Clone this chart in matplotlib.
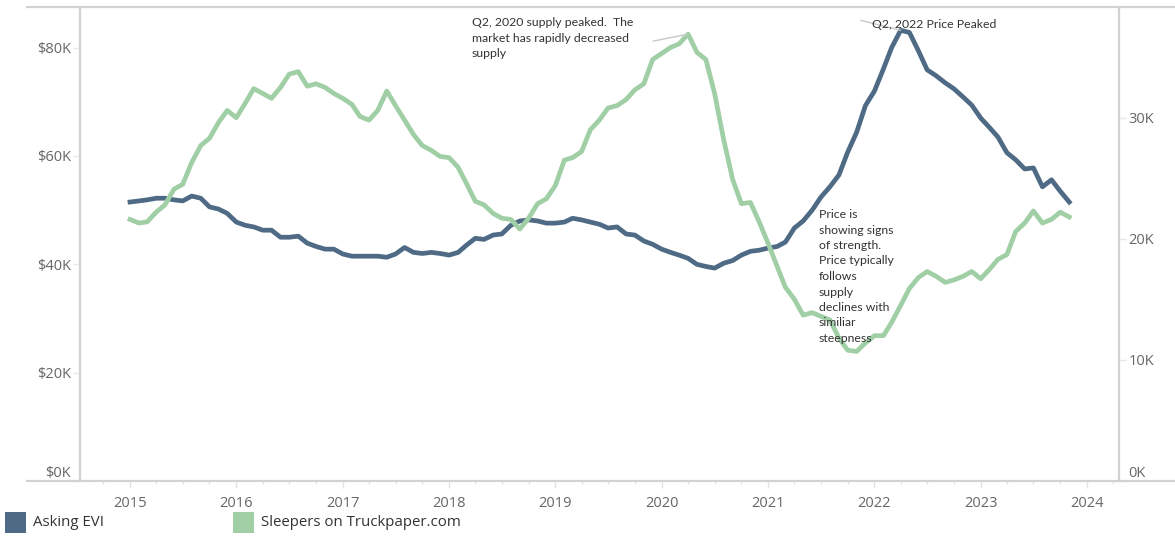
import matplotlib
matplotlib.use("Agg")
import matplotlib.pyplot as plt
import matplotlib.dates as mdates
import pandas as pd
from matplotlib.lines import Line2D
from matplotlib.patches import Rectangle
from matplotlib.ticker import FuncFormatter

# monthly, Jan 2015 .. Nov 2023
months = pd.date_range("2015-01-01", "2023-11-01", freq="MS")

# Asking EVI ($K, left axis)
asking_evi = [
    51.5, 51.7, 51.9, 52.2, 52.2, 51.9, 51.7, 52.6, 52.2, 50.6, 50.2, 49.4,
    47.8, 47.2, 46.9, 46.3, 46.3, 45.0, 45.0, 45.2, 43.9, 43.3, 42.8, 42.8,
    41.9, 41.5, 41.5, 41.5, 41.5, 41.3, 41.9, 43.1, 42.2, 42.0, 42.2, 42.0,
    41.7, 42.2, 43.5, 44.8, 44.6, 45.4, 45.6, 47.2, 48.0, 48.2, 48.0, 47.6,
    47.6, 47.8, 48.5, 48.2, 47.8, 47.4, 46.7, 46.9, 45.6, 45.4, 44.3, 43.7,
    42.8, 42.2, 41.7, 41.1, 40.0, 39.6, 39.3, 40.2, 40.7, 41.7, 42.4, 42.6,
    43.0, 43.3, 44.1, 46.7, 48.0, 50.0, 52.4, 54.3, 56.5, 60.7, 64.4, 69.3,
    72.0, 76.1, 80.0, 83.2, 82.8, 79.4, 75.9, 74.8, 73.5, 72.4, 70.9, 69.4,
    67.0, 65.2, 63.5, 60.6, 59.3, 57.6, 57.8, 54.3, 55.6, 53.5, 51.5,
]

# Sleepers on Truckpaper.com (K listings, right axis)
sleepers = [
    21.6, 21.3, 21.4, 22.2, 22.8, 24.1, 24.5, 26.3, 27.7, 28.3, 29.6, 30.6,
    30.0, 31.2, 32.4, 32.0, 31.6, 32.5, 33.6, 33.8, 32.6, 32.8, 32.5, 32.0,
    31.6, 31.1, 30.1, 29.8, 30.6, 32.2, 31.0, 29.8, 28.6, 27.7, 27.3, 26.8,
    26.7, 25.9, 24.6, 23.1, 22.8, 22.1, 21.7, 21.6, 20.8, 21.7, 22.9, 23.3,
    24.4, 26.5, 26.7, 27.2, 29.0, 29.8, 30.8, 31.0, 31.5, 32.3, 32.8, 34.8,
    35.3, 35.8, 36.1, 36.9, 35.4, 34.8, 32.0, 28.2, 24.9, 22.9, 23.0, 21.4,
    19.6, 17.7, 16.0, 15.0, 13.7, 13.9, 13.6, 13.3, 11.8, 10.8, 10.7, 11.4,
    12.0, 12.0, 13.1, 14.5, 15.9, 16.8, 17.3, 16.9, 16.4, 16.6, 16.9, 17.3,
    16.7, 17.5, 18.3, 18.7, 20.6, 21.3, 22.3, 21.3, 21.6, 22.2, 21.8,
]

years = list(range(2015, 2025))
left_ticks = [0, 20, 40, 60, 80]
right_ticks = [0, 10, 20, 30]

blue = "#4e6a85"
green = "#a0cfa6"
grid_grey = "#d2d2d2"
tick_grey = "#666666"
text_dark = "#333333"

W, H = 1175, 537
fig = plt.figure(figsize=(W / 100, H / 100), dpi=100)
ax = fig.add_axes([80 / W, 56 / H, 1039 / W, 474 / H])
ax2 = ax.twinx()

ax.plot(months, asking_evi, color=blue, lw=3.4, solid_joinstyle="round", zorder=3)
ax2.plot(months, sleepers, color=green, lw=3.4, solid_joinstyle="round", zorder=3)

left = mdates.date2num(pd.Timestamp("2015-01-01")) - 50 / 106.33 * 365.25
right = mdates.date2num(pd.Timestamp("2024-01-01")) + 32 / 106.33 * 365.25
ax.set_xlim(left, right)
ax.set_ylim(0, 87.5)
ax2.set_ylim(0, 39.14)

for a in (ax, ax2):
    for s in a.spines.values():
        s.set_visible(False)
ax.spines["left"].set_visible(True)
ax.spines["left"].set_color(grid_grey)
ax.spines["left"].set_linewidth(1.6)
ax2.spines["right"].set_visible(True)
ax2.spines["right"].set_color(grid_grey)
ax2.spines["right"].set_linewidth(1.6)

ax.set_xticks([pd.Timestamp(f"{y}-01-01") for y in years])
ax.set_xticklabels([str(y) for y in years])
ax.xaxis.set_minor_locator(mdates.MonthLocator(bymonth=[4, 7, 10]))
ax.tick_params(axis="x", which="major", length=5, color="#e3e3e3", width=1,
               labelsize=10.5, labelcolor=tick_grey, pad=6)
ax.tick_params(axis="x", which="minor", length=2.5, color="#e3e3e3", width=1)

ax.set_yticks(left_ticks)
ax.yaxis.set_major_formatter(FuncFormatter(lambda v, p: f"${v:.0f}K"))
ax.tick_params(axis="y", length=5, color="#e8e8e8", width=1,
               labelsize=10.5, labelcolor=tick_grey, pad=1.5)
ax2.set_yticks(right_ticks)
ax2.yaxis.set_major_formatter(FuncFormatter(lambda v, p: f"{v:.0f}K"))
ax2.tick_params(axis="y", length=5, color="#e8e8e8", width=1,
                labelsize=10.5, labelcolor=tick_grey, pad=2)
for a in (ax, ax2):
    for lab in a.get_xticklabels() + a.get_yticklabels():
        lab.set_family("Open Sans")
ax.get_yticklabels()[0].set_va("bottom")
ax2.get_yticklabels()[0].set_va("bottom")

# full-width rules at top and bottom
for yp in (7, 481):
    fig.add_artist(Line2D([27 / W, 1], [1 - yp / H] * 2, transform=fig.transFigure,
                          color=grid_grey, lw=1.6))

# annotations
note_kw = dict(fontsize=8.8, color=text_dark, family="Lato", linespacing=1.5)
pk_s = sleepers.index(max(sleepers))
ax2.annotate("", xy=(months[pk_s], sleepers[pk_s]), xytext=(-35, -7),
             textcoords="offset pixels",
             arrowprops=dict(arrowstyle="-", color="#c8c8c8", lw=1, shrinkA=0, shrinkB=0))
fig.text(472 / W, 1 - 17 / H,
         "Q2, 2020 supply peaked.  The\nmarket has rapidly decreased\nsupply",
         ha="left", va="top", **note_kw)

pk_p = asking_evi.index(max(asking_evi))
ax.annotate("", xy=(months[pk_p], asking_evi[pk_p]), xytext=(-40, 10),
            textcoords="offset pixels",
            arrowprops=dict(arrowstyle="-", color="#c8c8c8", lw=1, shrinkA=0, shrinkB=0))
fig.text(872 / W, 1 - 25 / H, "Q2, 2022 Price Peaked", ha="left", va="center", **note_kw)

fig.text(819 / W, 1 - 209 / H,
         "Price is\nshowing signs\nof strength.\nPrice typically\nfollows\nsupply\n"
         "declines with\nsimiliar\nsteepness",
         ha="left", va="top", **note_kw)

# legend
for x0, col, label in [(5, blue, "Asking EVI"), (233, green, "Sleepers on Truckpaper.com")]:
    fig.add_artist(Rectangle((x0 / W, 1 - 533 / H), 21 / W, 21 / H,
                             transform=fig.transFigure, color=col, lw=0))
    fig.text((x0 + 28) / W, 1 - 522 / H, label, ha="left", va="center",
             fontsize=10.8, color=text_dark, family="Open Sans")

fig.savefig("out.png", dpi=100)
